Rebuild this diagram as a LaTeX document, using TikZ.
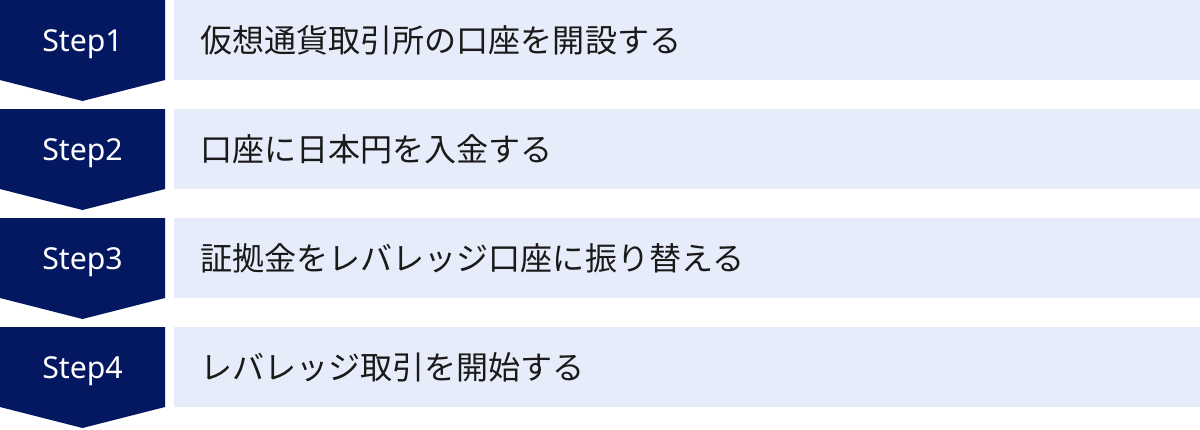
\documentclass[tikz,border=0pt]{standalone}
\usepackage{fontspec}
\setmainfont{Noto Sans CJK JP}
\newfontfamily\steplatin{Noto Sans}
\usetikzlibrary{calc}
\definecolor{stepnavy}{HTML}{041862}
\definecolor{rowblue}{HTML}{E6ECF9}
\definecolor{rowtext}{HTML}{1A1A1A}

\begin{document}
\begin{tikzpicture}[x=0.025cm, y=-0.025cm,
	steplabel/.style={text=white, font=\steplatin\fontsize{21.5}{24}\selectfont, inner sep=0pt, anchor=base},
	rowlabel/.style={text=rowtext, font=\fontsize{22.8}{26}\selectfont, anchor=west, inner sep=0pt}]
	\useasboundingbox (0, 0) rectangle (1200, 429);

	\foreach \i/\txt in {1/仮想通貨取引所の口座を開設する, 2/口座に日本円を入金する, 3/証拠金をレバレッジ口座に振り替える, 4/レバレッジ取引を開始する} {
		\coordinate (top\i) at (0, {(\i-1)*109});
		% navy arrow tag and light row
		\fill [stepnavy] (top\i) -- ++(165, 0) -- ++(0, 80) -- ++(-82.5, 21) -- ++(-82.5, -21) -- cycle;
		\fill [rowblue] ($(top\i) + (174, 0)$) rectangle ++(1026, 80);
		\node [steplabel] (step\i) at ($(top\i) + (82.5, 51.5)$) {Step\i};
		\node [rowlabel] (row\i) at ($(top\i) + (200, 40)$) {\txt};
	}
\end{tikzpicture}
\end{document}
